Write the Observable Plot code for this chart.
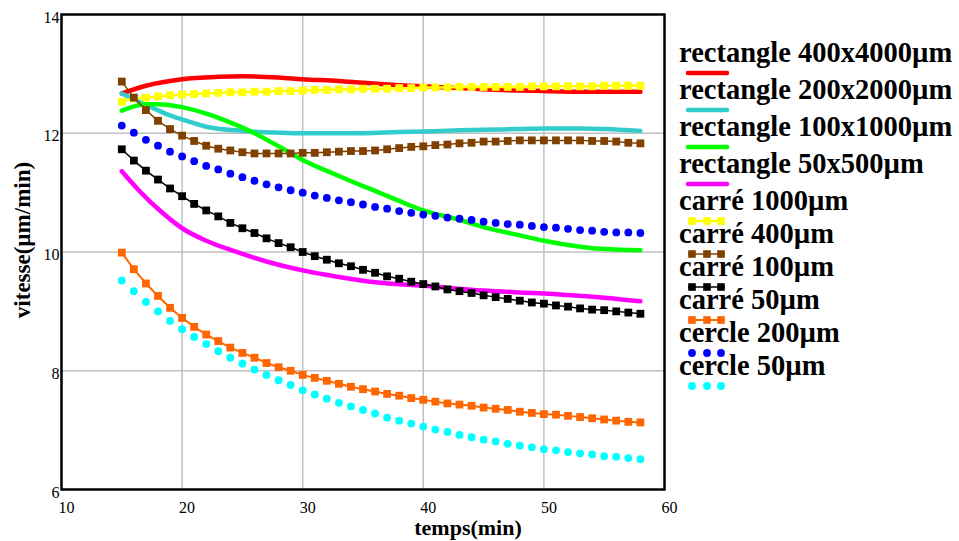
<!DOCTYPE html>
<html><head><meta charset="utf-8">
<script src="https://cdn.jsdelivr.net/npm/d3@7"></script>
<script src="https://cdn.jsdelivr.net/npm/@observablehq/plot@0.6"></script>
<style>
body{margin:0;background:#fff;}
#wrap{position:relative;width:959px;height:541px;overflow:hidden;background:#fff;}
#wrap svg{position:absolute;left:0;top:0;}
</style></head><body><div id="wrap"></div>
<script>
// time axis (minutes) for the marker series
const t = [15,16,17,18,19,20,21,22,23,24,25,26,27,28,29,30,31,32,33,34,35,36,37,38,39,40,41,42,43,44,45,46,47,48,49,50,51,52,53,54,55,56,57,58];

// carré series (squares, one per minute)
const carre1000 = [12.53,12.59,12.60,12.62,12.64,12.65,12.66,12.67,12.68,12.69,12.69,12.70,12.70,12.71,12.71,12.72,12.73,12.73,12.74,12.74,12.75,
  12.75,12.75,12.76,12.76,12.77,12.77,12.77,12.78,12.78,12.78,12.78,12.78,12.78,12.79,12.79,12.79,12.79,12.79,12.79,12.80,12.80,12.80,12.80];
const carre400 = [12.87,12.60,12.39,12.21,12.07,11.96,11.87,11.79,11.74,11.71,11.68,11.66,11.66,11.66,11.66,11.67,11.67,11.68,11.69,11.70,11.70,11.71,
  11.73,11.75,11.77,11.78,11.80,11.81,11.83,11.84,11.86,11.86,11.87,11.88,11.88,11.88,11.88,11.88,11.88,11.87,11.87,11.86,11.84,11.83];
const carre100 = [11.73,11.54,11.37,11.22,11.07,10.94,10.81,10.70,10.60,10.49,10.40,10.32,10.23,10.15,10.08,10.00,9.93,9.87,9.81,9.76,9.70,9.65,
  9.59,9.55,9.50,9.46,9.42,9.37,9.34,9.31,9.27,9.24,9.21,9.18,9.15,9.13,9.10,9.08,9.05,9.03,9.02,9.00,8.98,8.96];
const carre50 = [9.99,9.71,9.47,9.26,9.06,8.89,8.74,8.61,8.50,8.39,8.30,8.22,8.13,8.06,8.00,7.93,7.88,7.83,7.78,7.73,7.69,7.65,
  7.61,7.58,7.54,7.51,7.48,7.45,7.43,7.41,7.38,7.36,7.34,7.31,7.29,7.27,7.26,7.24,7.22,7.20,7.18,7.16,7.14,7.13];
// cercle series (dots, one per minute)
const cercle200 = [12.13,12.01,11.89,11.79,11.69,11.61,11.53,11.45,11.39,11.32,11.26,11.20,11.14,11.09,11.04,11.00,10.95,10.91,10.87,10.84,10.80,10.76,
  10.73,10.69,10.66,10.63,10.61,10.58,10.56,10.54,10.51,10.49,10.47,10.46,10.44,10.42,10.41,10.39,10.37,10.36,10.34,10.33,10.33,10.32];
const cercle50 = [9.52,9.34,9.16,9.00,8.84,8.70,8.57,8.45,8.33,8.22,8.12,8.02,7.93,7.84,7.76,7.67,7.60,7.53,7.46,7.40,7.34,7.28,
  7.21,7.16,7.11,7.06,7.01,6.97,6.92,6.88,6.84,6.81,6.77,6.74,6.71,6.68,6.66,6.63,6.61,6.59,6.56,6.55,6.53,6.51];

// rectangle series (smooth curves, read at selected times)
const rect4000T = [15,17,20,23,25,28,30,33,35,38,40,43,45,48,50,53,55,58];
const rect4000V = [12.67,12.80,12.91,12.95,12.96,12.94,12.91,12.88,12.85,12.81,12.79,12.76,12.74,12.72,12.71,12.70,12.70,12.70];
const rect2000T = [15,17,19,20.5,22,25,28,30,33,35,38,40,43,45,48,50,53,55,58];
const rect2000V = [12.67,12.48,12.30,12.20,12.11,12.04,12.01,12.00,12.00,12.00,12.02,12.03,12.05,12.06,12.07,12.08,12.08,12.07,12.04];
const rect1000T = [15,17,18,20,22,23.5,26,28,30,33,35,36,38,40,43,45,48,50,53,55,58];
const rect1000V = [12.38,12.49,12.49,12.44,12.33,12.22,12.00,11.78,11.55,11.28,11.11,11.03,10.86,10.70,10.54,10.42,10.28,10.19,10.09,10.05,10.03];
const rect500T = [15,16.5,18.2,20,22,24.4,27,30,33,36,40,45,50,55,58];
const rect500V = [11.36,11.02,10.69,10.40,10.19,10.01,9.84,9.69,9.58,9.49,9.43,9.35,9.30,9.23,9.17];

const xTicks = [10,20,30,40,50,60];
const yTicks = [6,8,10,12,14];
const xLabel = "temps(min)";
const yLabel = "vitesse(µm/min)";

const series = [
  {name:"rectangle 400x4000µm", color:"#ff0000", kind:"curve", t:rect4000T, v:rect4000V},
  {name:"rectangle 200x2000µm", color:"#33cccc", kind:"curve", t:rect2000T, v:rect2000V},
  {name:"rectangle 100x1000µm", color:"#00ff00", kind:"curve", t:rect1000T, v:rect1000V},
  {name:"rectangle 50x500µm",   color:"#ff00ff", kind:"curve", t:rect500T,  v:rect500V},
  {name:"carré 1000µm", color:"#ffff00", kind:"square", t:t, v:carre1000, lw:2.5},
  {name:"carré 400µm",  color:"#804000", kind:"square", t:t, v:carre400, lw:1.5},
  {name:"carré 100µm",  color:"#000000", kind:"square", t:t, v:carre100, lw:1.5},
  {name:"carré 50µm",   color:"#ff6600", kind:"square", t:t, v:carre50, lw:2},
  {name:"cercle 200µm", color:"#0000ff", kind:"dot", t:t, v:cercle200},
  {name:"cercle 50µm",  color:"#00ffff", kind:"dot", t:t, v:cercle50}
];

const rows = s => s.t.map((x,i) => ({x, y:s.v[i]}));
const marks = [
  Plot.gridX(xTicks.slice(1,-1), {stroke:"#c0c0c0", strokeOpacity:1, strokeWidth:1.5}),
  Plot.gridY(yTicks.slice(1,-1), {stroke:"#c0c0c0", strokeOpacity:1, strokeWidth:1.5})
];
for (const s of series) {
  const d = rows(s);
  if (s.kind === "curve") {
    marks.push(Plot.line(d, {x:"x", y:"y", stroke:s.color, strokeWidth:4.5, curve:"monotone-x"}));
  } else if (s.kind === "square") {
    marks.push(Plot.line(d, {x:"x", y:"y", stroke:s.color, strokeWidth:s.lw}));
    marks.push(Plot.dot(d, {x:"x", y:"y", symbol:"square", r:4.4, fill:s.color, stroke:"none"}));
  } else {
    marks.push(Plot.dot(d, {x:"x", y:"y", r:3.9, fill:s.color, stroke:"none"}));
  }
}
marks.push(
  Plot.frame({stroke:"#000", strokeWidth:2.5}),
  Plot.axisX(xTicks, {tickSize:0, tickPadding:12, dx:5, fontSize:16, label:null, tickFormat:"d"}),
  Plot.axisY(yTicks, {tickSize:0, tickPadding:2, dy:3, fontSize:16, label:null, tickFormat:"d"}),
  Plot.text([xLabel], {frameAnchor:"bottom", dx:105, dy:38, fontWeight:"bold", fontSize:22, lineAnchor:"middle", textAnchor:"middle"}),
  Plot.text([yLabel], {frameAnchor:"left", rotate:-90, dx:-39, dy:-12, fontWeight:"bold", fontSize:23, lineAnchor:"middle", textAnchor:"middle"})
);

const chart = Plot.plot({
  width: 959, height: 541,
  marginLeft: 61, marginRight: 295, marginTop: 14, marginBottom: 52,
  x: {domain:[10,60]},
  y: {domain:[6,14]},
  style: {fontFamily:"'Liberation Serif', serif", fontSize:"16px", color:"#000", background:"transparent"},
  marks
});
const wrap = document.getElementById("wrap");
wrap.appendChild(chart);

// legend (right side)
const lg = d3.select(wrap).append("svg").attr("width",959).attr("height",541)
  .style("font-family","'Liberation Serif', serif").style("font-weight","bold");
series.forEach((s,i) => {
  const base = i < 4 ? 62 + 37*i : 210 + 33*(i-4);
  const g = lg.append("g").attr("transform",`translate(679,${base})`);
  g.append("text").attr("x",0).attr("y",0).attr("font-size",28.5).attr("fill","#000").text(s.name);
  const sy = 11;
  const xs = [13, 28, 42];
  if (s.kind === "curve") {
    g.append("line").attr("x1",9).attr("x2",48).attr("y1",sy).attr("y2",sy)
      .attr("stroke",s.color).attr("stroke-width",4.5).attr("stroke-linecap","round");
  } else if (s.kind === "square") {
    g.append("line").attr("x1",9).attr("x2",46).attr("y1",sy).attr("y2",sy)
      .attr("stroke",s.color).attr("stroke-width",s.lw);
    xs.forEach(x => g.append("rect").attr("x",x-3.8).attr("y",sy-3.8).attr("width",7.6).attr("height",7.6).attr("fill",s.color));
  } else {
    xs.forEach(x => g.append("circle").attr("cx",x).attr("cy",sy).attr("r",3.9).attr("fill",s.color));
  }
});
</script></body></html>
